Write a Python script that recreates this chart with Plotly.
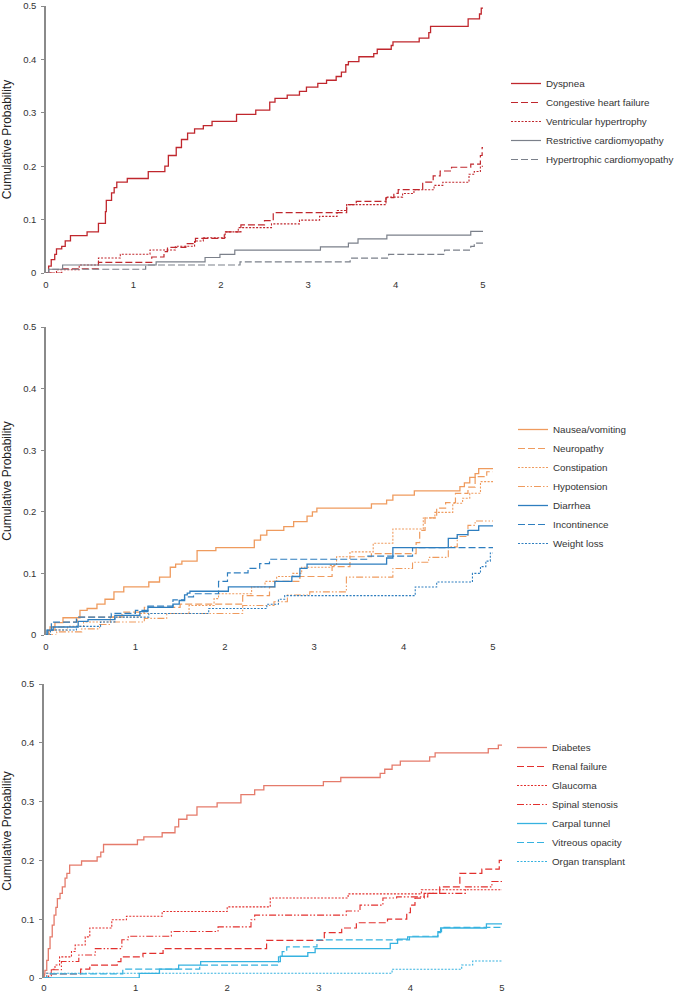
import plotly.graph_objects as go

# ---------------- Panel 1: cardiac ----------------
dyspnea_t = [0, 0.03, 0.06, 0.1, 0.12, 0.18, 0.22, 0.28, 0.47, 0.6, 0.68, 0.69, 0.75, 0.78, 0.81, 0.93,
             1.17, 1.36, 1.4, 1.49, 1.55, 1.62, 1.7, 1.8, 1.9, 2.18, 2.4, 2.56, 2.62, 2.76, 2.9, 2.98,
             3.11, 3.21, 3.32, 3.38, 3.43, 3.46, 3.58, 3.75, 3.79, 3.95, 3.97, 4.27, 4.38, 4.4, 4.83,
             4.96, 4.98, 5.0]
dyspnea_p = [0, 0.013, 0.025, 0.035, 0.045, 0.05, 0.06, 0.07, 0.077, 0.093, 0.115, 0.136, 0.15, 0.16, 0.17, 0.177,
             0.19, 0.2, 0.22, 0.235, 0.25, 0.262, 0.27, 0.276, 0.284, 0.297, 0.305, 0.32, 0.327, 0.333, 0.34, 0.348,
             0.355, 0.361, 0.368, 0.376, 0.39, 0.396, 0.405, 0.411, 0.419, 0.426, 0.433, 0.44, 0.45, 0.462, 0.476,
             0.485, 0.496, 0.496]
chf_t = [0, 0.18, 0.6, 1.21, 1.35, 1.39, 1.6, 1.71, 2.04, 2.23, 2.5, 2.6, 3.44, 3.55, 3.89, 3.98, 4.03,
         4.31, 4.43, 4.51, 4.64, 4.86, 4.97, 4.99, 5.0]
chf_p = [0, 0.008, 0.02, 0.03, 0.04, 0.048, 0.055, 0.065, 0.077, 0.09, 0.098, 0.113, 0.128, 0.134, 0.141, 0.149, 0.156,
         0.17, 0.182, 0.191, 0.198, 0.204, 0.22, 0.235, 0.235]
vh_t = [0, 0.12, 0.38, 0.6, 0.85, 1.19, 1.48, 1.7, 1.8, 2.05, 2.2, 2.58, 2.9, 3.13, 3.33, 3.44, 3.89, 4.08,
        4.21, 4.44, 4.54, 4.84, 4.9, 4.97, 5.0]
vh_p = [0, 0.006, 0.015, 0.028, 0.035, 0.043, 0.05, 0.06, 0.066, 0.077, 0.085, 0.092, 0.099, 0.106, 0.117, 0.128,
        0.142, 0.149, 0.156, 0.164, 0.17, 0.185, 0.19, 0.2, 0.2]
rc_t = [0, 0.03, 0.19, 1.26, 1.82, 1.99, 2.16, 3.14, 3.46, 3.57, 3.9, 4.86, 5.0]
rc_p = [0, 0.007, 0.015, 0.021, 0.029, 0.035, 0.043, 0.049, 0.056, 0.064, 0.071, 0.078, 0.078]
hc_t = [0, 0.03, 1.14, 2.22, 3.48, 3.92, 4.56, 4.86, 4.9, 5.0]
hc_p = [0, 0.007, 0.015, 0.021, 0.028, 0.035, 0.043, 0.05, 0.056, 0.056]

# ---------------- Panel 2: GI / neuro ----------------
nv_t = [0, 0.03, 0.045, 0.1, 0.19, 0.38, 0.46, 0.57, 0.66, 0.76, 0.87, 1.15, 1.27, 1.39, 1.45, 1.52, 1.69, 1.9,
        2.33, 2.4, 2.47, 2.66, 2.77, 2.92, 2.98, 3.03, 3.64, 3.81, 3.88, 4.12, 4.63, 4.68, 4.74, 4.8, 4.84, 5.0]
nv_p = [0, 0.008, 0.013, 0.02, 0.028, 0.04, 0.043, 0.05, 0.058, 0.07, 0.078, 0.086, 0.094, 0.11, 0.115, 0.12, 0.137,
        0.142, 0.154, 0.162, 0.17, 0.176, 0.184, 0.193, 0.2, 0.206, 0.213, 0.219, 0.227, 0.234, 0.241, 0.247, 0.256,
        0.262, 0.27, 0.27]
np_t = [0, 0.07, 0.1, 0.2, 0.35, 0.85, 1.1, 1.5, 2.2, 2.5, 2.56, 2.84, 3.2, 3.4, 3.64, 4.14, 4.18, 4.24, 4.37,
        4.47, 4.58, 4.72, 4.8, 4.93, 5.0]
np_p = [0, 0.008, 0.013, 0.021, 0.029, 0.037, 0.045, 0.05, 0.064, 0.078, 0.087, 0.095, 0.111, 0.127, 0.132, 0.15,
        0.17, 0.19, 0.206, 0.215, 0.23, 0.24, 0.257, 0.265, 0.265]
cs_t = [0, 0.04, 0.24, 0.42, 0.72, 1.05, 1.6, 1.88, 1.93, 2.3, 2.45, 2.58, 2.76, 2.86, 3.18, 3.25, 3.4, 3.66,
        3.88, 4.22, 4.35, 4.55, 4.66, 4.74, 4.86, 5.0]
cs_p = [0, 0.008, 0.014, 0.021, 0.029, 0.035, 0.048, 0.059, 0.067, 0.078, 0.087, 0.095, 0.1, 0.11, 0.113, 0.127,
        0.135, 0.149, 0.172, 0.19, 0.199, 0.214, 0.222, 0.23, 0.249, 0.249]
hy_t = [0, 0.12, 0.4, 0.6, 0.72, 1.1, 1.35, 2.2, 2.55, 2.7, 2.95, 3.36, 3.88, 4.1, 4.28, 4.5, 4.6, 4.72, 4.8, 5.0]
hy_p = [0, 0.005, 0.01, 0.017, 0.021, 0.027, 0.035, 0.048, 0.054, 0.065, 0.07, 0.094, 0.108, 0.118, 0.126, 0.143,
        0.16, 0.178, 0.185, 0.185]
di_t = [0, 0.01, 0.08, 0.36, 0.47, 0.77, 1.05, 1.14, 1.42, 1.49, 1.55, 1.58, 1.61, 2.04, 2.56, 2.75, 2.84, 2.92,
        3.81, 3.88, 4.5, 4.6, 4.72, 4.84, 5.0]
di_p = [0, 0.008, 0.013, 0.022, 0.025, 0.032, 0.038, 0.045, 0.05, 0.056, 0.065, 0.068, 0.071, 0.078, 0.087, 0.095,
        0.108, 0.115, 0.125, 0.142, 0.157, 0.163, 0.17, 0.177, 0.177]
ic_t = [0, 0.02, 0.06, 0.34, 0.73, 1.0, 1.14, 1.42, 1.55, 1.65, 1.93, 2.03, 2.26, 2.39, 2.5, 3.6, 4.1, 5.0]
ic_p = [0, 0.008, 0.021, 0.029, 0.035, 0.04, 0.047, 0.057, 0.062, 0.067, 0.087, 0.101, 0.108, 0.116, 0.123, 0.128,
        0.142, 0.142]
wl_t = [0, 0.05, 0.34, 0.61, 0.77, 1.15, 1.82, 2.47, 2.6, 2.67, 4.13, 4.37, 4.77, 4.86, 4.92, 4.97, 5.0]
wl_p = [0, 0.008, 0.014, 0.021, 0.029, 0.035, 0.043, 0.05, 0.058, 0.064, 0.078, 0.086, 0.1, 0.111, 0.12, 0.133, 0.133]

# ---------------- Panel 3: other ----------------
db_t = [0, 0.005, 0.01, 0.03, 0.047, 0.066, 0.09, 0.11, 0.13, 0.146, 0.175, 0.2, 0.23, 0.25, 0.28, 0.41, 0.58,
        0.62, 0.65, 1.02, 1.09, 1.29, 1.43, 1.47, 1.56, 1.67, 1.89, 2.15, 2.3, 2.4, 3.05, 3.24, 3.67, 3.72, 3.8,
        3.89, 4.21, 4.27, 4.85, 4.96, 5.0]
db_p = [0, 0.007, 0.013, 0.03, 0.05, 0.07, 0.09, 0.107, 0.12, 0.135, 0.144, 0.155, 0.17, 0.178, 0.192, 0.199, 0.206,
        0.214, 0.227, 0.235, 0.24, 0.247, 0.257, 0.27, 0.277, 0.291, 0.298, 0.312, 0.32, 0.327, 0.334, 0.341, 0.348,
        0.355, 0.362, 0.369, 0.376, 0.383, 0.39, 0.396, 0.396]
rf_t = [0, 0.05, 0.4, 0.5, 0.8, 0.84, 1.08, 1.3, 2.43, 3.06, 3.25, 3.41, 3.75, 3.96, 4.0, 4.05, 4.15, 4.32, 4.54,
        4.78, 4.97, 5.0]
rf_p = [0, 0.007, 0.015, 0.022, 0.028, 0.036, 0.042, 0.05, 0.064, 0.077, 0.085, 0.094, 0.1, 0.111, 0.124, 0.136,
        0.144, 0.155, 0.178, 0.185, 0.2, 0.2]
gl_t = [0, 0.03, 0.08, 0.12, 0.17, 0.3, 0.34, 0.45, 0.5, 0.74, 0.9, 1.29, 2.0, 2.47, 3.32, 4.12, 5.0]
gl_p = [0, 0.008, 0.015, 0.022, 0.036, 0.045, 0.056, 0.07, 0.085, 0.099, 0.105, 0.113, 0.121, 0.136, 0.143, 0.15, 0.15]
ss_t = [0, 0.08, 0.19, 0.38, 0.56, 0.85, 0.92, 1.39, 1.9, 2.26, 2.3, 3.3, 3.45, 3.7, 3.85, 4.19, 4.6, 4.89, 5.0]
ss_p = [0, 0.014, 0.028, 0.039, 0.05, 0.065, 0.071, 0.079, 0.087, 0.099, 0.107, 0.114, 0.124, 0.136, 0.138, 0.144,
        0.155, 0.164, 0.164]
ct_t = [0, 1.04, 1.26, 1.47, 1.71, 2.58, 2.88, 2.96, 3.78, 3.86, 3.97, 4.3, 4.33, 4.83, 5.0]
ct_p = [0, 0.008, 0.015, 0.022, 0.028, 0.037, 0.043, 0.05, 0.059, 0.066, 0.07, 0.077, 0.085, 0.092, 0.092]
vo_t = [0, 0.07, 0.86, 1.7, 2.56, 2.6, 2.65, 2.98, 3.99, 4.3, 4.34, 5.0]
vo_p = [0, 0.007, 0.015, 0.022, 0.036, 0.045, 0.053, 0.065, 0.071, 0.079, 0.086, 0.086]
ot_t = [0, 0.03, 3.8, 4.56, 4.68, 5.0]
ot_p = [0, 0.008, 0.015, 0.022, 0.029, 0.029]

x_ticks = [0, 1, 2, 3, 4, 5]
y_ticks = [0, 0.1, 0.2, 0.3, 0.4, 0.5]
y_ticklabels = ["0", "0.1", "0.2", "0.3", "0.4", "0.5"]

RED1, GRAY = "#C0272D", "#7B808A"
ORANGE, BLUE = "#EF9B5E", "#2E7EBF"
SALMON, RED3, CYAN = "#E57B6B", "#E2302E", "#36B2E0"

DASH = "7px,3px"
DOT = "2px,1.5px"
DASHDOTDOT = "7px,2px,1.5px,2px,1.5px,2px"

series = [
    # (name, t, p, color, dash, width, panel)
    ("Dyspnea", dyspnea_t, dyspnea_p, RED1, "solid", 1.3, 1),
    ("Congestive heart failure", chf_t, chf_p, RED1, DASH, 1.2, 1),
    ("Ventricular hypertrophy", vh_t, vh_p, RED1, DOT, 1.1, 1),
    ("Restrictive cardiomyopathy", rc_t, rc_p, GRAY, "solid", 1.2, 1),
    ("Hypertrophic cardiomyopathy", hc_t, hc_p, GRAY, DASH, 1.2, 1),
    ("Nausea/vomiting", nv_t, nv_p, ORANGE, "solid", 1.3, 2),
    ("Neuropathy", np_t, np_p, ORANGE, DASH, 1.2, 2),
    ("Constipation", cs_t, cs_p, ORANGE, DOT, 1.1, 2),
    ("Hypotension", hy_t, hy_p, ORANGE, DASHDOTDOT, 1.1, 2),
    ("Diarrhea", di_t, di_p, BLUE, "solid", 1.3, 2),
    ("Incontinence", ic_t, ic_p, BLUE, DASH, 1.2, 2),
    ("Weight loss", wl_t, wl_p, BLUE, DOT, 1.1, 2),
    ("Diabetes", db_t, db_p, SALMON, "solid", 1.3, 3),
    ("Renal failure", rf_t, rf_p, RED3, DASH, 1.2, 3),
    ("Glaucoma", gl_t, gl_p, RED3, DOT, 1.1, 3),
    ("Spinal stenosis", ss_t, ss_p, RED3, DASHDOTDOT, 1.1, 3),
    ("Carpal tunnel", ct_t, ct_p, CYAN, "solid", 1.3, 3),
    ("Vitreous opacity", vo_t, vo_p, CYAN, DASH, 1.2, 3),
    ("Organ transplant", ot_t, ot_p, CYAN, DOT, 1.1, 3),
]

fig = go.Figure()
for name, t, p, color, dash, w, panel in series:
    sfx = "" if panel == 1 else str(panel)
    fig.add_trace(go.Scatter(
        x=t, y=p, name=name, mode="lines", line_shape="hv",
        line=dict(color=color, width=w, dash=dash),
        xaxis="x" + sfx, yaxis="y" + sfx, legend="legend" + sfx,
        hoverinfo="skip",
    ))

W, H = 675, 992
FONT = "Liberation Sans, Arial, sans-serif"
panels = {
    1: dict(x=(46, 483), y=(6, 273), xtl=3),
    2: dict(x=(46, 493), y=(327, 635), xtl=3),
    3: dict(x=(44, 502), y=(684, 978), xtl=1),
}
layout = dict(
    width=W, height=H, margin=dict(l=0, r=0, t=0, b=0, autoexpand=False),
    paper_bgcolor="white", plot_bgcolor="white",
    font=dict(family=FONT, size=10, color="#333333"),
)
for k, d in panels.items():
    sfx = "" if k == 1 else str(k)
    layout["xaxis" + sfx] = dict(
        domain=[d["x"][0] / W, d["x"][1] / W], range=[0, 5], anchor="y" + sfx,
        tickvals=x_ticks, ticktext=[str(v) for v in x_ticks], showline=False, showgrid=False,
        zeroline=False, ticks="outside", ticklen=d["xtl"], tickcolor="rgba(0,0,0,0)",
        ticklabeloverflow="allow",
        tickfont=dict(size=9.5, color="#333333"), fixedrange=True,
    )
    layout["yaxis" + sfx] = dict(
        domain=[1 - d["y"][1] / H, 1 - d["y"][0] / H], range=[0, 0.5], anchor="x" + sfx,
        tickvals=y_ticks, ticktext=y_ticklabels, showline=True, linecolor="#8A8A8A", linewidth=1.5,
        ticks="outside", ticklen=3, tickcolor="#8A8A8A", showgrid=False, zeroline=False,
        ticklabelstandoff=3, ticklabeloverflow="allow",
        tickfont=dict(size=9.5, color="#333333"),
        title=dict(text="Cumulative Probability", font=dict(size=12, color="#222222"), standoff=9),
        fixedrange=True,
    )

legend_pos = {1: (506, 69), 2: (513, 415), 3: (512, 733)}
for k, (lx, ly) in legend_pos.items():
    sfx = "" if k == 1 else str(k)
    layout["legend" + sfx] = dict(
        x=lx / W, y=1 - ly / H, xanchor="left", yanchor="top",
        bgcolor="rgba(0,0,0,0)", font=dict(family=FONT, size=9.8, color="#333333"),
        tracegroupgap=0, itemwidth=30,
    )

fig.update_layout(**layout)
fig.write_html("out.html", config={"displayModeBar": False},
               post_script="document.body.style.margin='0px';")
